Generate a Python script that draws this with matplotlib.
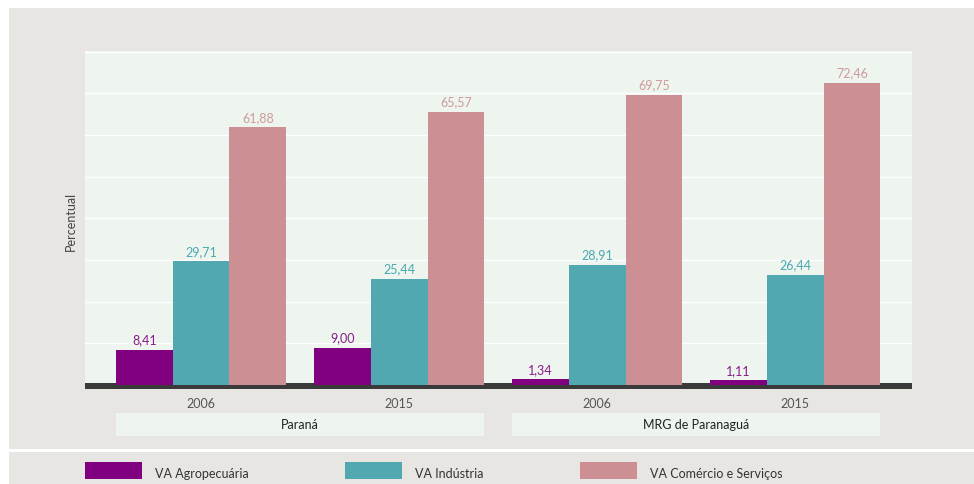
import matplotlib
matplotlib.use("Agg")
import matplotlib.pyplot as plt
import matplotlib.transforms as mtransforms
from matplotlib.patches import Rectangle
import numpy as np

plt.rcParams['font.family'] = ['Lato', 'DejaVu Sans']

regions = ["Paraná", "MRG de Paranaguá"]
years = ["2006", "2015", "2006", "2015"]
series_names = ["VA Agropecuária", "VA Indústria", "VA Comércio e Serviços"]
agro = [8.41, 9.00, 1.34, 1.11]
industria = [29.71, 25.44, 28.91, 26.44]
comercio = [61.88, 65.57, 69.75, 72.46]

bar_colors = ["#800080", "#52a8b1", "#cc9094"]
label_colors = ["#8a1a8a", "#4aa8b2", "#d09a9c"]

W, H = 974, 485
fig = plt.figure(figsize=(W / 100, H / 100), dpi=100)
fig.patch.set_facecolor("white")

def fx(px):
    return px / W

def fy(py):
    return 1 - py / H

# background panels
fig.patches.append(Rectangle((fx(9), fy(450)), fx(974 - 9), (450 - 9) / H,
                             transform=fig.transFigure, facecolor="#e8e6e2",
                             edgecolor="none", zorder=-10))
fig.patches.append(Rectangle((fx(9), fy(485)), fx(974 - 9), (485 - 453) / H,
                             transform=fig.transFigure, facecolor="#e8e6e2",
                             edgecolor="none", zorder=-10))

ax = fig.add_axes([fx(85), fy(390), fx(912 - 85), (390 - 52) / H])
ax.set_zorder(1)
ax.set_facecolor("#edf5ee")
for s in ax.spines.values():
    s.set_visible(False)

x = np.arange(len(years))
bw = 0.287
data = [agro, industria, comercio]
for i, (vals, c, lc) in enumerate(zip(data, bar_colors, label_colors)):
    pos = x + (i - 1) * bw
    ax.bar(pos, vals, width=bw, color=c, zorder=3, linewidth=0)
    for p, v in zip(pos, vals):
        ax.text(p, v + 1.1, f"{v:.2f}".replace(".", ","), ha="center", va="bottom",
                color=lc, fontsize=9, zorder=4)

ax.set_xlim(-0.586, 3.59)
ax.set_ylim(-0.96, 80.2)
ax.axhspan(-0.96, 0.6, color="#3a3a3a", zorder=2, linewidth=0)
ax.set_yticks(np.arange(10, 81, 10))
ax.yaxis.grid(True, color="white", linewidth=1.0, zorder=1)
ax.set_axisbelow(True)
ax.set_xticks([])
ax.tick_params(left=False, labelleft=False)

ax.set_ylabel("Percentual", fontsize=9, color="#444444", labelpad=6)

# year labels
trans = mtransforms.blended_transform_factory(ax.transData, fig.transFigure)
for xi, yr in zip(x, years):
    ax.text(xi, fy(404), yr, transform=trans, ha="center", va="center",
            fontsize=9, color="#555555", clip_on=False)

# region boxes
for r, name in enumerate(regions):
    left = x[2 * r] - 1.5 * bw
    right = x[2 * r + 1] + 1.5 * bw
    rect = Rectangle((left, fy(437)), right - left, (437 - 414) / H, transform=trans,
                     facecolor="#edf5ee", edgecolor="none", clip_on=False, zorder=1)
    ax.add_patch(rect)
    ax.text((left + right) / 2, fy(425.5), name, transform=trans, ha="center",
            va="center", fontsize=9, color="#222222", clip_on=False)

# legend
leg_x = [85, 345, 580]
for lx, name, c in zip(leg_x, series_names, bar_colors):
    fig.patches.append(Rectangle((fx(lx), fy(480)), fx(57), (480 - 463) / H,
                                 transform=fig.transFigure, facecolor=c,
                                 edgecolor="none", zorder=2))
    fig.text(fx(lx + 70), fy(474), name, ha="left", va="center", fontsize=9,
             color="#333333")

fig.savefig("out.png", dpi=100, facecolor=fig.get_facecolor())
